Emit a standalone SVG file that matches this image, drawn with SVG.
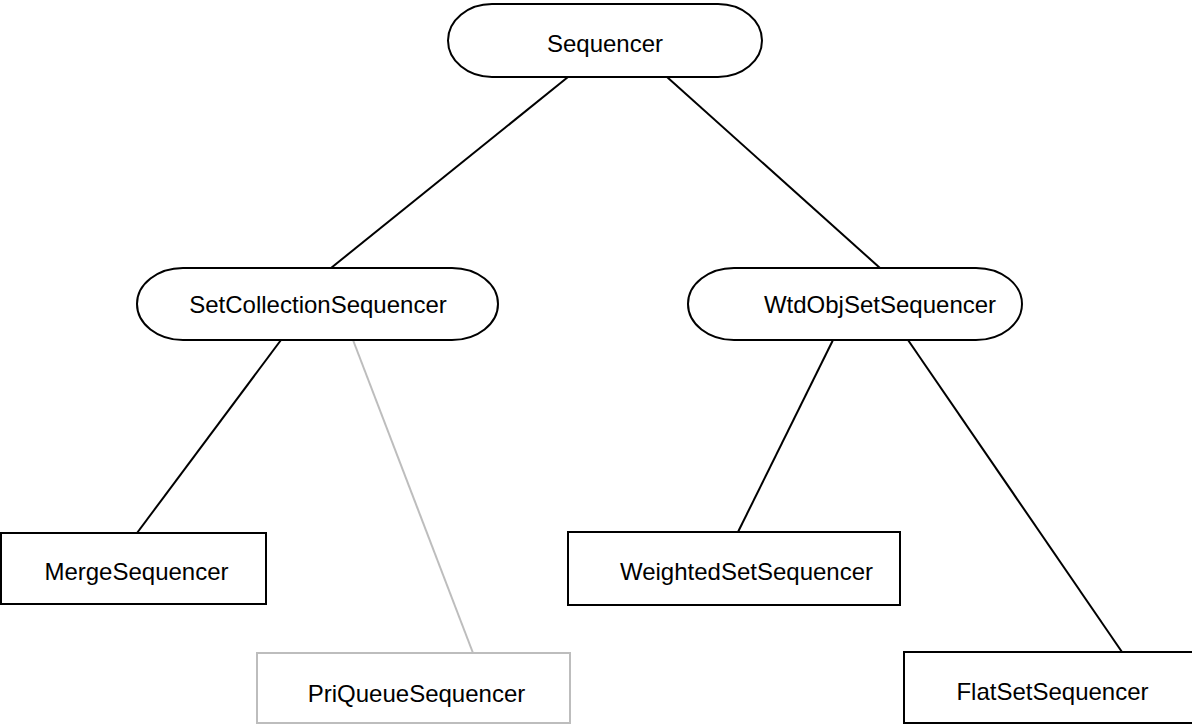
<svg xmlns="http://www.w3.org/2000/svg" width="1192" height="725" viewBox="0 0 1192 725">
<style>
.n{fill:#fff;stroke:#000;stroke-width:2}
.g{fill:#fff;stroke:#bdbdbd;stroke-width:2}
.t{font-family:"Liberation Sans",Arial,sans-serif;font-size:24px;fill:#000;text-anchor:middle}
.c line{stroke:#000;stroke-width:2}
.c line.gl{stroke:#bdbdbd}
</style>
<rect width="1192" height="725" fill="#fff"/>
<g class="c" id="connectors">
<line x1="568" y1="77" x2="331" y2="268"/>
<line x1="667" y1="77" x2="880" y2="268"/>
<line x1="281" y1="340" x2="137" y2="533"/>
<line class="gl" x1="353" y1="340" x2="473" y2="653"/>
<line x1="833" y1="340" x2="738" y2="532"/>
<line x1="908" y1="340" x2="1122" y2="652"/>
</g>
<g id="sequencer">
<rect class="n" x="448" y="4" width="314" height="73" rx="44" ry="36.5"/>
<text class="t" x="605" y="52">Sequencer</text>
</g>
<g id="setcollection">
<rect class="n" x="137" y="268" width="361" height="72" rx="46" ry="36"/>
<text class="t" x="318" y="313">SetCollectionSequencer</text>
</g>
<g id="wtdobjset">
<rect class="n" x="688" y="268" width="334" height="72" rx="46" ry="36"/>
<text class="t" x="880" y="313">WtdObjSetSequencer</text>
</g>
<g id="merge">
<rect class="n" x="1" y="533" width="265" height="71"/>
<text class="t" x="136.5" y="580">MergeSequencer</text>
</g>
<g id="priqueue">
<rect class="g" x="257" y="653" width="313" height="70"/>
<text class="t" x="416.5" y="702">PriQueueSequencer</text>
</g>
<g id="weightedset">
<rect class="n" x="568" y="532" width="332" height="73"/>
<text class="t" x="746.5" y="580">WeightedSetSequencer</text>
</g>
<g id="flatset">
<rect class="n" x="904" y="652" width="290" height="71"/>
<text class="t" x="1052.5" y="700">FlatSetSequencer</text>
</g>
</svg>
